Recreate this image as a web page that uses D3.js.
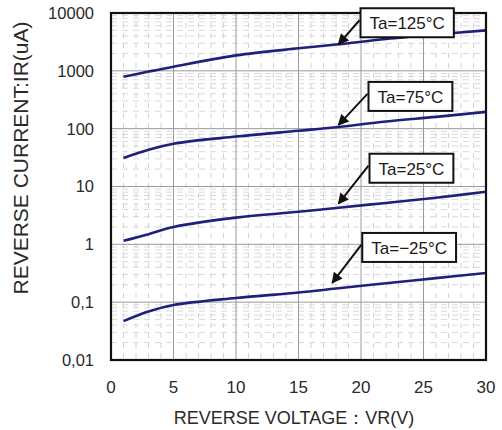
<!DOCTYPE html>
<html><head><meta charset="utf-8">
<script src="https://cdn.jsdelivr.net/npm/d3@7"></script>
<style>body{margin:0;background:#fff}svg{display:block;font-family:"Liberation Sans",Arial,sans-serif}</style>
</head><body><svg id="c" width="502" height="430"></svg>
<script>
// ---- data ----
const voltage = [1, 3, 5, 10, 15, 18, 22, 26, 30];
const ta125 = [790, 970, 1180, 1850, 2450, 2850, 3550, 4250, 5000];
const ta75  = [31, 43, 55, 73, 92, 106, 133, 160, 195];
const ta25  = [1.15, 1.5, 2.0, 2.9, 3.65, 4.25, 5.2, 6.4, 8.1];
const taM25 = [0.047, 0.069, 0.089, 0.118, 0.147, 0.172, 0.212, 0.26, 0.32];
const seriesNames = ["Ta=125°C", "Ta=75°C", "Ta=25°C", "Ta=\u221225°C"];
const labelVoltage = [18.2, 18.2, 18.2, 17.7];
const xTicks = [0, 5, 10, 15, 20, 25, 30];
const yTicks = [0.01, 0.1, 1, 10, 100, 1000, 10000];
const yTickLabels = ["0,01", "0,1", "1", "10", "100", "1000", "10000"];
const xTitle = "REVERSE VOLTAGE\uFF1AVR(V)";
const yTitle = "REVERSE CURRENT:IR(uA)";

// ---- layout ----
const L = 111, R = 486, T = 13, B = 360;
const svg = d3.select("#c");
const x = d3.scaleLinear().domain([0, 30]).range([L, R]);
const y = d3.scaleLog().domain([0.01, 10000]).range([B, T]);

const g = svg.append("g");
// minor grid
const minorX = d3.range(0, 31, 1).filter(v => v % 5 !== 0);
g.selectAll(".mx").data(minorX).join("line")
  .attr("x1", d => x(d)).attr("x2", d => x(d)).attr("y1", T).attr("y2", B)
  .attr("stroke", "#d2d2d2").attr("stroke-width", 1).attr("stroke-dasharray", "5,5");
const minorY = [];
yTicks.slice(0, -1).forEach(d => { for (let k = 2; k <= 9; k++) minorY.push(d * k); });
g.selectAll(".my").data(minorY).join("line")
  .attr("x1", L).attr("x2", R).attr("y1", d => y(d)).attr("y2", d => y(d))
  .attr("stroke", "#d9d9d9").attr("stroke-width", 1).attr("stroke-dasharray", "6,5");
// major grid
g.selectAll(".gx").data(xTicks).join("line")
  .attr("x1", d => x(d)).attr("x2", d => x(d)).attr("y1", T).attr("y2", B)
  .attr("stroke", "#9a9a9a").attr("stroke-width", 1);
g.selectAll(".gy").data(yTicks).join("line")
  .attr("x1", L).attr("x2", R).attr("y1", d => y(d)).attr("y2", d => y(d))
  .attr("stroke", "#9a9a9a").attr("stroke-width", 1);

// curves
const series = [ta125, ta75, ta25, taM25];
const line = d3.line().x((d, i) => x(voltage[i])).y(d => y(d)).curve(d3.curveCatmullRom.alpha(0.5));
g.selectAll(".s").data(series).join("path")
  .attr("d", d => line(d)).attr("fill", "none")
  .attr("stroke", "#20207a").attr("stroke-width", 2.6);

// frame
svg.append("rect").attr("x", L).attr("y", T).attr("width", R - L).attr("height", B - T)
  .attr("fill", "none").attr("stroke", "#111").attr("stroke-width", 2.2);

// ticks
svg.append("g").selectAll("text").data(yTicks).join("text")
  .attr("x", 94).attr("y", d => y(d)).attr("dy", "0.36em").attr("text-anchor", "end")
  .attr("font-size", 16.5).attr("fill", "#2a2a2a").text((d, i) => yTickLabels[i]);
svg.append("g").selectAll("text").data(xTicks).join("text")
  .attr("x", d => x(d)).attr("y", 393).attr("text-anchor", "middle")
  .attr("font-size", 17).attr("fill", "#2a2a2a").text(d => d);

// titles
svg.append("text").attr("x", 294).attr("y", 424).attr("text-anchor", "middle")
  .attr("font-size", 18).attr("fill", "#2a2a2a").text(xTitle);
svg.append("text").attr("transform", "translate(28,158) rotate(-90)").attr("text-anchor", "middle")
  .attr("font-size", 21).attr("fill", "#2a2a2a").text(yTitle);

// annotations
const defs = svg.append("defs");
defs.append("marker").attr("id", "ah").attr("viewBox", "0 0 10 10").attr("refX", 9).attr("refY", 5)
  .attr("markerWidth", 6.5).attr("markerHeight", 5.5).attr("orient", "auto").attr("markerUnits", "strokeWidth")
  .append("path").attr("d", "M0,0 L10,5 L0,10 z").attr("fill", "#111");
const tipLift = [0, 2, 4, 6];
const boxDx = [22, 30, 31, 30], boxDy = [-36, -43, -50, -50];
series.forEach((s, i) => {
  const v = labelVoltage[i];
  const j = d3.bisectRight(voltage, v) - 1;
  const t = (v - voltage[j]) / (voltage[j + 1] - voltage[j]);
  const val = Math.pow(10, Math.log10(s[j]) * (1 - t) + Math.log10(s[j + 1]) * t);
  const tx = x(v), ty = y(val) - tipLift[i];
  const bx = tx + boxDx[i], by = ty + boxDy[i];
  const ag = svg.append("g");
  const txt = ag.append("text").attr("x", bx + 9).attr("y", by + 21)
    .attr("font-size", 17).attr("fill", "#1a1a1a").text(seriesNames[i]);
  const w = txt.node().getComputedTextLength() + 18;
  ag.insert("rect", "text").attr("x", bx).attr("y", by).attr("width", w).attr("height", 29)
    .attr("fill", "#fff").attr("stroke", "#111").attr("stroke-width", 2);
  ag.append("line").attr("x1", bx - 1).attr("y1", by + 12).attr("x2", tx).attr("y2", ty)
    .attr("stroke", "#111").attr("stroke-width", 2).attr("marker-end", "url(#ah)");
});
</script></body></html>
